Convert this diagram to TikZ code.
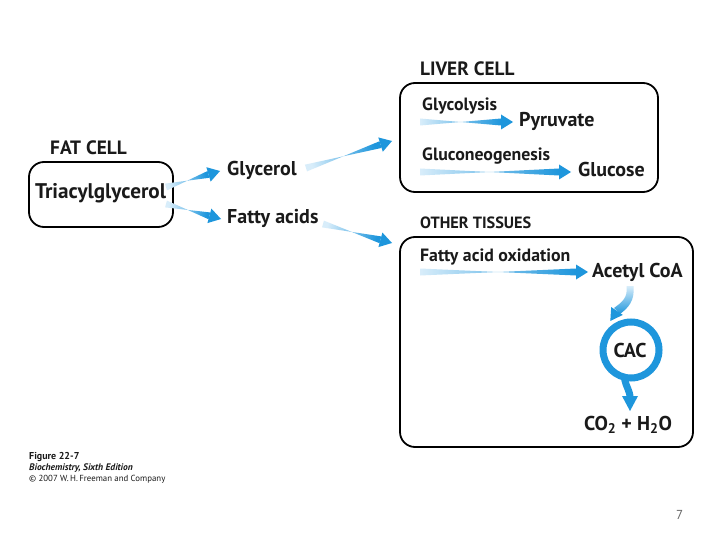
\documentclass[tikz,border=0pt]{standalone}
\usepackage{fontspec}
\setmainfont{PT Sans}
\usetikzlibrary{calc}
\definecolor{arrblue}{HTML}{1E96DC}
\definecolor{arrlight}{HTML}{D8EDFA}
\definecolor{txt}{HTML}{1A1A1A}
\newcommand\garrow[2]{%
  \pgfmathanglebetweenpoints{\pgfpointanchor{#1}{center}}{\pgfpointanchor{#2}{center}}%
  \pgfmathsetmacro\gang{\pgfmathresult+90}%
  \path ($(#2)!12pt!(#1)$) coordinate (gh);
  \shade[left color=arrlight, right color=arrblue, shading angle=\gang]
    ($(#1)!3.5pt!90:(#2)$) -- ($(#1)!3.5pt!-90:(#2)$) -- ($(gh)!3.5pt!90:(#2)$) -- ($(gh)!3.5pt!-90:(#2)$) -- cycle;
  \fill[arrblue] ($(gh)!7.5pt!90:(#2)$) -- (#2) -- ($(gh)!7.5pt!-90:(#2)$) -- cycle;
}
\tikzset{
  cellbox/.style={draw=black, line width=1.8pt, rounded corners=15pt},
  lbl/.style={anchor=base west, inner sep=0pt, text=txt, font=\bfseries\fontsize{20}{22}\selectfont},
  small/.style={anchor=base west, inner sep=0pt, text=txt, font=\bfseries\fontsize{17.8}{19}\selectfont},
  head/.style={anchor=base west, inner sep=0pt, text=txt, font=\bfseries\fontsize{19.3}{21}\selectfont},
  foot/.style={anchor=base west, inner sep=0pt, text=txt, font=\fontsize{8.8}{10}\selectfont},
}
\begin{document}
\begin{tikzpicture}[x=1pt,y=-1pt]
\useasboundingbox (0,0) rectangle (720,540);
\fill[white] (0,0) rectangle (720,540);
% boxes
\draw[cellbox] (29,162) rectangle (173,227);
\draw[cellbox] (400,83) rectangle (658,192);
\draw[cellbox] (400,237) rectangle (693,447);
% headings
\node[head] (fat) at (50,155) {FAT CELL};
\node[head] (liver) at (420,76) {LIVER CELL};
\node[head, font=\bfseries\fontsize{16.3}{18}\selectfont] (other) at (420,229) {OTHER TISSUES};
% texts
\node[lbl, font=\bfseries\fontsize{21.2}{23}\selectfont] (tag) at (35,199) {Triacylglycerol};
\node[lbl] (gly) at (227,176) {Glycerol};
\node[lbl] (fa) at (227,224) {Fatty acids};
\node[small] (glyc) at (422,111) {Glycolysis};
\node[lbl] (pyr) at (519,127) {Pyruvate};
\node[small] (gng) at (422,161) {Gluconeogenesis};
\node[lbl] (glc) at (578,177) {Glucose};
\node[small] (fao) at (420,261) {Fatty acid oxidation};
\node[lbl] (acoa) at (592,277) {Acetyl CoA};
\node[lbl, anchor=base] (cac) at (630,357) {CAC};
\node[lbl, anchor=base] (prod) at (628,430) {CO\textsubscript{2} + H\textsubscript{2}O};
% arrow end points
\coordinate (a1s) at (166,187); \coordinate (a1e) at (220,171);
\coordinate (a2s) at (166,204); \coordinate (a2e) at (221,219);
\coordinate (a3s) at (306,168); \coordinate (a3e) at (392,141);
\coordinate (a4s) at (323,224); \coordinate (a4e) at (392,243);
\coordinate (a5s) at (420,122); \coordinate (a5e) at (513,122);
\coordinate (a6s) at (420,172); \coordinate (a6e) at (571,172);
\coordinate (a7s) at (420,272); \coordinate (a7e) at (588,272);
\garrow{a1s}{a1e}
\garrow{a2s}{a2e}
\garrow{a3s}{a3e}
\garrow{a4s}{a4e}
\garrow{a5s}{a5e}
\garrow{a6s}{a6e}
\garrow{a7s}{a7e}
% acetyl CoA to CAC curved arrow
\shade[top color=arrlight, bottom color=arrblue]
  (626.5,286) .. controls (628,298) and (622,302) .. (614,308)
  -- (620,314) .. controls (628,308) and (635,301) .. (633.5,286) -- cycle;
\fill[arrblue] (622.8,314.9) -- (610.3,321) -- (611.2,307.1) -- cycle;
% CAC cycle
\coordinate (cc) at (631,350);
\draw[arrblue, line width=7pt] (cc) circle[radius=28pt];
\draw[arrblue, line width=7pt] (624,376) .. controls (626,388) and (630,390) .. (630,398);
\fill[arrblue] (622,396) -- (638,396) -- (630,411) -- cycle;
% footer
\node[foot, font=\bfseries\fontsize{10}{11}\selectfont] (fig) at (29,459) {Figure 22-7};
\node[foot, font=\bfseries\itshape\fontsize{9.5}{11}\selectfont] (book) at (29,470) {Biochemistry, Sixth Edition};
\node[foot] (copy) at (29,481) {© 2007 W.\,H.\,Freeman and Company};
\node[anchor=base west, inner sep=0pt, text=black!60, font=\fontsize{13}{14}\selectfont] (page) at (676,519) {7};
\end{tikzpicture}
\end{document}
